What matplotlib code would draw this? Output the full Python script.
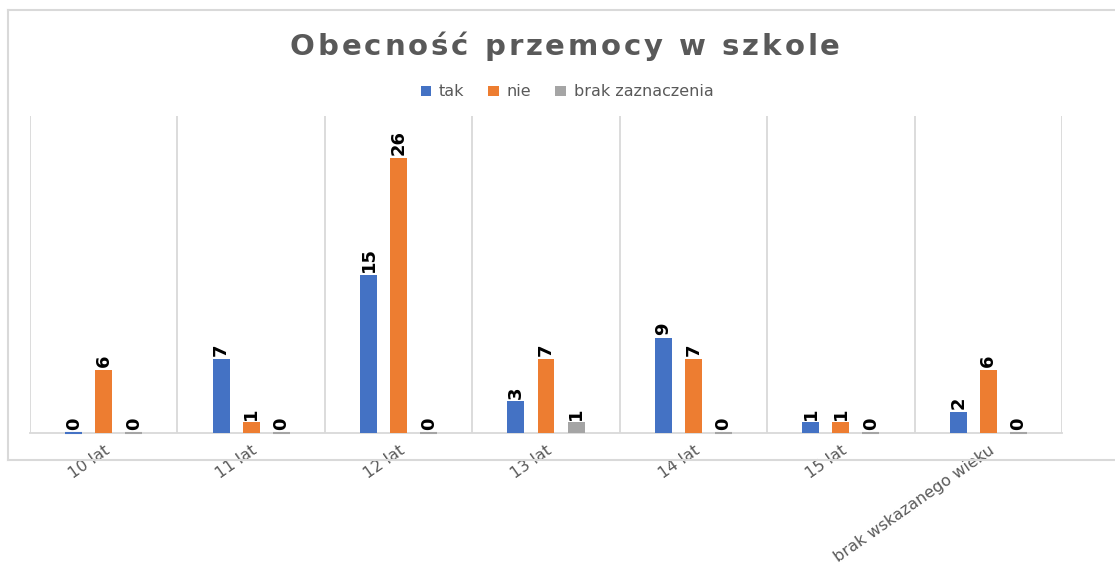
import matplotlib
matplotlib.use("Agg")
import matplotlib.pyplot as plt
import numpy as np
from matplotlib.font_manager import FontProperties
from matplotlib.lines import Line2D

categories = ["10 lat", "11 lat", "12 lat", "13 lat", "14 lat", "15 lat", "brak wskazanego wieku"]
tak = [0, 7, 15, 3, 9, 1, 2]
nie = [6, 1, 26, 7, 7, 1, 6]
brak = [0, 0, 0, 1, 0, 0, 0]
series_names = ["tak", "nie", "brak zaznaczenia"]
colors = ["#4472C4", "#ED7D31", "#A5A5A5"]
title = "Obecność przemocy w szkole"

W, H = 1115, 566
fig = plt.figure(figsize=(W / 100, H / 100), dpi=100)
ax = fig.add_axes([30 / W, 1 - 433 / H, (1062 - 30) / W, (433 - 116) / H])

x = np.arange(len(categories))
bw = 0.115
off = 0.204
grey_txt = "#595959"
grid_c = "#D9D9D9"

for i, (vals, name, c) in enumerate(zip([tak, nie, brak], series_names, colors)):
    pos = x + (i - 1) * off
    bars = ax.bar(pos, vals, bw, color=c, label=name, zorder=3)
    for b, v in zip(bars, vals):
        if v == 0:
            # excel shows a hairline for empty bars
            ax.hlines(0, b.get_x(), b.get_x() + b.get_width(), color=c,
                      linewidth=1.5, zorder=4, clip_on=False)
        ax.annotate(str(v), (b.get_x() + b.get_width() / 2, v), xytext=(0, 2),
                    textcoords="offset points", ha="center", va="bottom",
                    rotation=90, fontsize=13, fontweight="bold", color="black")

ax.set_xlim(-0.5, len(categories) - 0.5)
ax.set_ylim(0, 30)
ax.set_yticks([])
ax.set_xticks(x)
ax.set_xticklabels(categories, rotation=35, ha="right", va="top",
                   rotation_mode="anchor", fontsize=11.5, color=grey_txt)
ax.tick_params(axis="x", length=0, pad=7)
for s in ["top", "left", "right"]:
    ax.spines[s].set_visible(False)
ax.spines["bottom"].set_color(grid_c)
ax.spines["bottom"].set_linewidth(1.3)
for gx in np.arange(-0.5, len(categories), 1.0):
    ax.axvline(gx, color=grid_c, linewidth=1.3, zorder=1)

# outer chart frame
frame_kw = dict(color=grid_c, linewidth=1.5, transform=fig.transFigure)
fig.add_artist(Line2D([8 / W, 8 / W], [1 - 10 / H, 1 - 460 / H], **frame_kw))
fig.add_artist(Line2D([8 / W, 1], [1 - 10 / H, 1 - 10 / H], **frame_kw))
fig.add_artist(Line2D([8 / W, 1], [1 - 460 / H, 1 - 460 / H], **frame_kw))

fig.legend(loc="center", bbox_to_anchor=(567 / W, 1 - 92 / H), ncol=3, frameon=False,
           fontsize=11.5, labelcolor=grey_txt, handlelength=0.65, handleheight=0.65,
           handletextpad=0.5, columnspacing=1.5)

# letter-spaced title
fp = FontProperties(family="DejaVu Sans", weight="bold", size=21)
renderer = fig.canvas.get_renderer()
widths = []
for ch in title:
    w, h, d = renderer.get_text_width_height_descent(ch, fp, ismath=False)
    if ch == " ":
        w = renderer.get_text_width_height_descent("a a", fp, ismath=False)[0] - \
            renderer.get_text_width_height_descent("aa", fp, ismath=False)[0]
    widths.append(w)
target = 550
gap = (target - sum(widths)) / (len(title) - 1)
cx = 290
for ch, w in zip(title, widths):
    fig.text(cx / W, 1 - 47 / H, ch, fontproperties=fp, color=grey_txt,
             ha="left", va="center")
    cx += w + gap

fig.savefig("out.png", dpi=100)
